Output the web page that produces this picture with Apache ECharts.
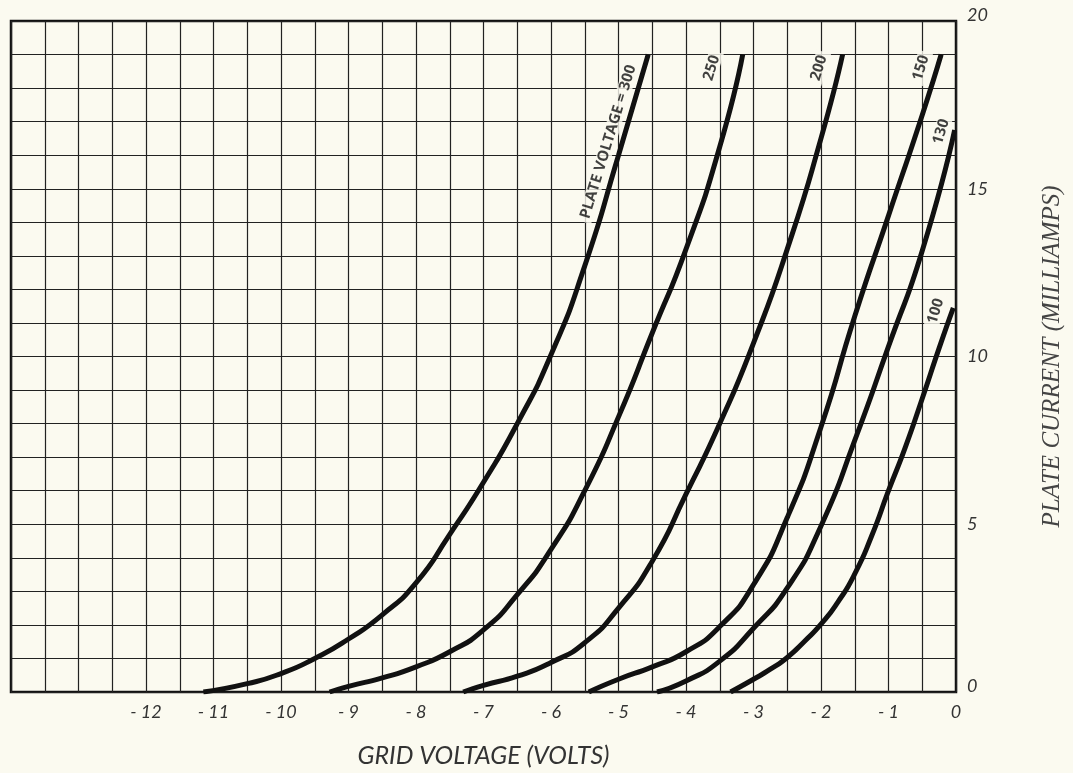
<!DOCTYPE html>
<html>
<head>
<meta charset="utf-8">
<script src="https://cdn.jsdelivr.net/npm/echarts@6/dist/echarts.min.js"></script>
<style>
  html, body { margin: 0; padding: 0; background: #fbfaf0; }
  #chart { width: 1073px; height: 773px; }
</style>
</head>
<body>
<div id="chart"></div>
<script>
// grid voltage (V) vs plate current (mA)
const xTickLabels = [-12, -11, -10, -9, -8, -7, -6, -5, -4, -3, -2, -1, 0]
const yTickLabels = [0, 5, 10, 15, 20]

const plate300 = [[-11.15,0],[-10.5,0.25],[-10,0.55],[-9.5,1.0],[-9,1.58],[-8.5,2.3],[-8,3.25],[-7.5,4.7],[-7,6.25],[-6.5,8],[-6,10.05],[-5.5,12.7],[-5,16],[-4.56,19]]
const plate250 = [[-9.28,0],[-9,0.17],[-8.5,0.42],[-8,0.75],[-7.5,1.2],[-7,1.85],[-6.5,2.9],[-6,4.25],[-5.5,6],[-5,8.2],[-4.5,10.7],[-4,13.2],[-3.5,16.25],[-3.16,19]]
const plate200 = [[-7.3,0],[-7,0.2],[-6.5,0.47],[-6,0.88],[-5.5,1.47],[-5,2.5],[-4.5,3.9],[-4,5.9],[-3.5,8],[-3,10.4],[-2.5,13.2],[-2,16.5],[-1.68,19]]
const plate150 = [[-5.44,0],[-5,0.38],[-4.5,0.75],[-4,1.2],[-3.5,1.95],[-3,3.2],[-2.5,5.2],[-2,7.9],[-1.5,11.2],[-1,14.2],[-0.5,17.2],[-0.22,19]]
const plate130 = [[-4.43,0],[-4,0.33],[-3.5,0.92],[-3,1.9],[-2.5,3.1],[-2,4.95],[-1.5,7.5],[-1,10.3],[-0.5,13.15],[-0.02,16.75]]
const plate100 = [[-3.34,0],[-3,0.38],[-2.75,0.68],[-2.5,1.03],[-2.25,1.5],[-2,2.02],[-1.75,2.68],[-1.5,3.52],[-1.25,4.65],[-1,6],[-0.75,7.3],[-0.5,8.75],[-0.25,10.25],[-0.04,11.45]]

const curves = [plate300, plate250, plate200, plate150, plate130, plate100]
const curveNames = ['300', '250', '200', '150', '130', '100']
const labelTexts = ['PLATE VOLTAGE = 300', '250', '200', '150', '130', '100']
const labelAt = [[-5.15,16.4],[-3.62,18.6],[-2.03,18.6],[-0.52,18.6],[-0.22,16.7],[-0.3,11.35]]

const bg = '#fbfaf0'
const numFont = { fontFamily: 'Lato', fontStyle: 'italic', fontSize: 18, color: '#333' }

let myChart = echarts.init(document.getElementById('chart'))

let series = curves.map((c, i) => ({
  name: curveNames[i],
  type: 'line',
  data: c,
  smooth: 0.6,
  smoothConstraint: false,
  showSymbol: false,
  silent: true,
  lineStyle: { color: '#111', width: 5, cap: 'butt' },
  z: 3
}))

series.push({
  name: 'labels',
  type: 'scatter',
  symbolSize: 0,
  silent: true,
  z: 4,
  data: labelAt.map((p, i) => ({ value: p, name: labelTexts[i] })),
  label: {
    show: true,
    position: 'inside',
    formatter: p => p.name,
    rotate: 73,
    fontFamily: 'Open Sans',
    fontWeight: 'bold',
    fontSize: 15,
    color: '#111',
    backgroundColor: bg,
    padding: [0, 4]
  }
})

let option = {
  backgroundColor: bg,
  animation: false,
  grid: {
    left: 11,
    top: 21,
    right: 115,
    bottom: 80,
    show: true,
    borderColor: '#111',
    borderWidth: 2.5,
    backgroundColor: 'transparent'
  },
  xAxis: {
    type: 'value',
    min: -14,
    max: 0,
    interval: 0.5,
    name: 'GRID VOLTAGE (VOLTS)',
    nameLocation: 'middle',
    nameGap: 51,
    nameTextStyle: { fontFamily: 'Lato', fontStyle: 'italic', fontSize: 25, color: '#333' },
    axisLine: { show: false },
    axisTick: { show: false },
    splitLine: { show: true, lineStyle: { color: '#222', width: 1.2 } },
    axisLabel: Object.assign({
      margin: 11,
      showMinLabel: true,
      showMaxLabel: true,
      formatter: v => {
        if (!xTickLabels.includes(v)) return ''
        return v === 0 ? '0' : '- ' + Math.abs(v)
      }
    }, numFont)
  },
  yAxis: {
    type: 'value',
    position: 'right',
    min: 0,
    max: 20,
    interval: 1,
    name: 'PLATE CURRENT (MILLIAMPS)',
    nameLocation: 'middle',
    nameRotate: 90,
    nameGap: 84,
    nameTextStyle: { fontFamily: 'Liberation Serif', fontStyle: 'italic', fontSize: 25, color: '#444' },
    axisLine: { show: false },
    axisTick: { show: false },
    splitLine: { show: true, lineStyle: { color: '#222', width: 1.2 } },
    axisLabel: Object.assign({
      margin: 11,
      showMinLabel: true,
      showMaxLabel: true,
      formatter: v => {
        if (!yTickLabels.includes(v)) return ''
        if (v === 0 || v === 20) return '{e|' + v + '}'
        return String(v)
      },
      rich: {
        e: Object.assign({ padding: [0, 0, 12, 0] }, numFont)
      }
    }, numFont)
  },
  series: series
}

myChart.setOption(option)
</script>
</body>
</html>
